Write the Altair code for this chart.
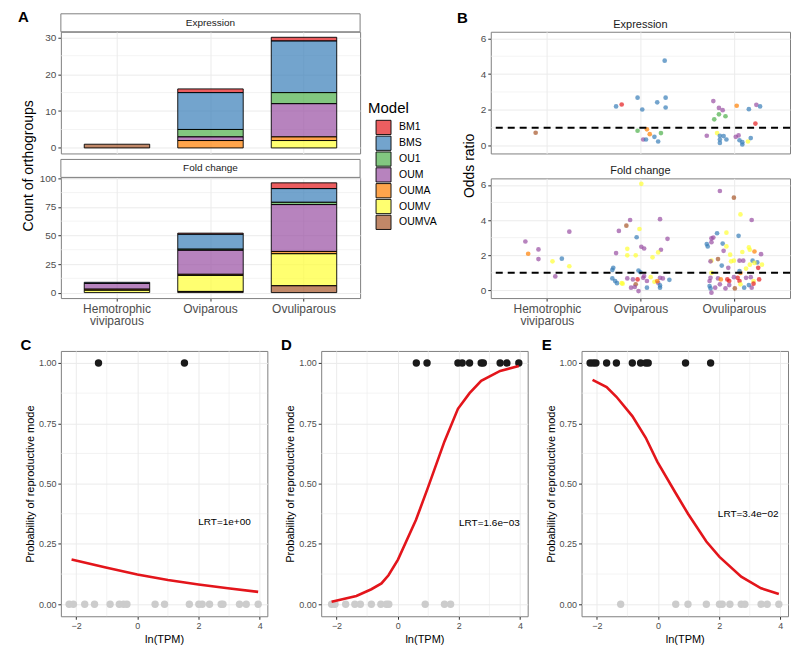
import altair as alt
import pandas as pd

FONT = "Liberation Sans"
GRID = "#EBEBEB"
BORDER = "#808080"
TICK_TEXT = "#4D4D4D"
TICK = "#333333"

models = ["BM1", "BMS", "OU1", "OUM", "OUMA", "OUMV", "OUMVA"]
model_colors = ["#E41A1C", "#377EB8", "#4DAF4A", "#984EA3", "#FF7F00", "#FFFF33", "#A65628"]
modes = ["Hemotrophic viviparous", "Oviparous", "Ovuliparous"]

# ---------------- Panel A: counts per model (in the order of `models`) ----------------
expr_hemo = [0, 0, 0, 0, 0, 0, 1]
expr_ovip = [1, 10, 2, 1, 2, 0, 0]
expr_ovul = [1, 14, 3, 9, 1, 2, 0]
fold_hemo = [0, 1, 0, 5, 1, 2, 0]
fold_ovip = [1, 13, 1, 21, 1, 14, 1]
fold_ovul = [5, 12, 2, 41, 2, 28, 6]

# ---------------- Panel B: jittered mode position (1,2,3), odds ratio, model ----------------
b_expr_x = [0.88, 1.74, 1.80, 1.97, 2.02, 1.97, 2.07, 2.03, 2.06, 2.10, 2.15, 2.18, 2.19, 2.22,
            2.26, 2.27, 2.27, 2.71, 2.78, 2.79, 2.82, 2.84, 2.84, 2.85, 2.85, 2.85, 2.88, 2.89,
            2.91, 2.92, 3.02, 3.03, 3.05, 3.06, 3.09, 3.09, 3.15, 3.16, 3.18, 3.23, 3.24, 3.28]
b_expr_y = [0.72, 2.19, 2.30, 2.68, 2.02, 0.83, 0.91, 0.34, 0.34, 0.64, 0.49, 2.42, 0.23, 0.70,
            4.75, 2.68, 2.13, 0.55, 2.49, 1.47, 0.70, 2.11, 1.75, 0.55, 0.34, 0.15, 1.98, 0.53,
            1.64, 0.34, 0.49, 2.23, 0.57, 0.30, 0.19, 0.06, 0.23, 2.04, 0.42, 1.23, 2.28, 2.19]
b_expr_m = ["OUMVA", "BMS", "BM1", "BMS", "BMS", "OU1", "OUMA", "OUM", "BMS", "OUMA", "BMS", "BMS", "BMS", "OU1",
            "BMS", "BMS", "BMS", "OUM", "OUM", "OU1", "OUMV", "OUM", "OU1", "BMS", "BMS", "BMS", "OUM", "BMS",
            "OU1", "BMS", "OUM", "OUMA", "OUM", "BMS", "BMS", "BMS", "OUMV", "BMS", "BMS", "BM1", "OUM", "BMS"]

b_fold_x = [0.77, 0.80, 0.91, 0.91, 1.06, 1.09, 1.16, 1.24, 1.24,
            2.01, 1.89, 1.85, 1.77, 2.21, 1.99, 1.96, 2.29, 1.74, 1.86, 2.01, 2.04, 2.22, 1.86, 1.95,
            2.13, 2.19, 1.71, 1.70, 1.98, 2.00, 1.70, 1.73, 1.75, 1.80, 1.86, 1.92, 1.97, 2.03, 2.04,
            2.07, 1.95, 1.90, 1.94, 1.98, 2.07, 2.11, 2.15, 2.19, 2.21, 2.24, 2.21, 2.21, 2.31, 2.18, 1.81,
            2.85, 3.00, 3.07, 3.19, 2.82, 2.92, 2.78, 2.76, 3.05, 2.71, 2.72, 2.76, 2.88, 2.92, 2.89,
            2.96, 3.09, 3.16, 3.17, 3.22, 3.29, 2.76, 2.75, 2.83, 2.97, 3.00, 3.06, 3.10, 3.20, 3.25,
            3.30, 3.26, 2.87, 2.94, 3.13, 3.17, 3.22, 3.07, 2.76, 2.75, 2.74, 2.83, 2.86, 2.93, 2.95,
            3.04, 3.06, 3.13, 3.18, 3.21, 3.27, 2.74, 2.75, 2.80, 2.85, 2.91, 2.95, 3.01, 3.07, 3.11,
            3.16, 3.19, 3.21, 2.76, 3.00, 3.06]
b_fold_y = [2.78, 2.08, 2.33, 1.78, 1.65, 0.79, 1.80, 3.34, 1.37,
            6.06, 4.00, 3.68, 3.38, 4.05, 3.49, 3.02, 2.93, 2.12, 2.36, 2.48, 2.38, 2.31, 1.99, 1.99,
            1.88, 2.16, 1.28, 1.16, 1.13, 1.03, 0.68, 0.53, 0.41, 0.41, 0.68, 0.62, 0.62, 0.71, 0.81,
            0.53, 0.34, 0.15, 0.19, -0.04, 0.15, 0.75, 0.49, 0.43, 0.71, 0.68, 0.28, 0.15, 0.60, 0.53, 0.38,
            5.65, 5.27, 4.32, 4.00, 3.25, 3.28, 3.00, 2.96, 3.10, 2.63, 2.50, 2.74, 2.66, 2.50, 2.25,
            2.03, 2.18, 2.44, 2.31, 2.21, 2.06, 1.69, 1.65, 1.78, 1.65, 1.69, 1.69, 1.69, 1.69, 1.59,
            1.46, 1.28, 1.41, 1.28, 1.24, 1.46, 1.56, 0.99, 0.99, 0.71, 0.53, 0.68, 0.62, 0.62, 0.53,
            0.71, 0.53, 0.71, 0.75, 0.53, 0.62, 0.24, 0.11, 0.15, 0.34, 0.11, 0.30, 0.11, 0.34, 0.15,
            0.30, 0.15, 0.38, -0.13, 0.75, 1.09]
b_fold_m = ["OUM", "OUMA", "OUM", "OUM", "OUMV", "OUM", "BMS", "OUM", "OUMV",
            "OUMV", "OUM", "OUMVA", "OUM", "OUM", "OUMV", "BMS", "OUM", "OUM", "OUMV", "OUM", "OUM", "OUM", "OUMV", "OUMV",
            "OUMV", "OUMV", "BMS", "BMS", "BMS", "BMS", "BMS", "BMS", "BMS", "OUMV", "OUM", "OUM", "BM1", "OUM", "OUM",
            "OUM", "OUMVA", "OUM", "OUM", "OUM", "BMS", "OUMV", "OUMV", "OUM", "OUM", "OUM", "BMS", "BMS", "BMS", "OUMA", "OUMV",
            "OUM", "OUMVA", "OUMV", "OUM", "BMS", "OUMV", "OUM", "OUM", "BMS", "BMS", "BMS", "OUM", "BMS", "OUMV", "OUM",
            "OUMV", "OUMV", "OUMV", "OUMV", "OUMA", "OUM", "OUMV", "OUM", "OUMVA", "OUMV", "OUMV", "OUM", "OUM", "BMS", "BMS",
            "OUMV", "BM1", "BMS", "OUM", "OUMV", "OUMV", "OUMV", "OUMA", "OUMV", "OUM", "OUM", "OUM", "OUMA", "BM1", "BM1",
            "BM1", "BM1", "OUM", "OUM", "OUMV", "BM1", "BMS", "BMS", "OUM", "OUM", "OUM", "OUM", "OUMVA", "OUMV", "BMS",
            "BMS", "OUM", "BM1", "OUM", "OUM", "BMS"]
b_ref_line = [1]

# ---------------- Panels C-E: ln(TPM) of species without / with the mode, fitted curve ----------------
c_absent = [-2.23, -2.09, -1.72, -1.40, -0.89, -0.59, -0.45, -0.34, 0.58, 0.89, 1.70, 2.01, 2.12, 2.36,
            2.74, 2.80, 3.34, 3.56, 3.95]
c_present = [-1.27, 1.54]
c_curve_x = [-2.15, -1.03, 0.0, 1.0, 2.0, 2.96, 3.95]
c_curve_y = [0.185, 0.152, 0.123, 0.100, 0.082, 0.066, 0.051]

d_absent = [-2.16, -2.05, -1.70, -1.40, -1.22, -0.86, -0.55, -0.37, -0.29, 0.90, 1.53, 1.73]
d_present = [0.61, 0.96, 1.97, 2.11, 2.35, 2.73, 2.80, 3.35, 3.57, 3.96]
d_curve_x = [-2.16, -1.35, -0.86, -0.53, -0.30, 0.01, 0.60, 0.98, 1.53, 1.97, 2.35, 2.73, 3.35, 3.96]
d_curve_y = [0.010, 0.034, 0.062, 0.086, 0.120, 0.185, 0.350, 0.480, 0.675, 0.810, 0.875, 0.926, 0.967, 0.988]

e_absent = [-1.22, 0.58, 0.98, 1.58, 2.01, 2.10, 2.35, 2.72, 2.84, 3.37, 3.57, 3.95]
e_present = [-2.22, -2.12, -2.03, -1.68, -1.36, -0.84, -0.57, -0.40, -0.32, 0.90, 1.72]
e_curve_x = [-2.14, -1.68, -1.36, -0.84, -0.40, -0.02, 0.58, 0.98, 1.58, 2.01, 2.72, 3.37, 3.95]
e_curve_y = [0.930, 0.900, 0.860, 0.780, 0.690, 0.590, 0.460, 0.375, 0.260, 0.196, 0.114, 0.066, 0.042]

lrt_labels = ["LRT=1e+00", "LRT=1.6e\u221203", "LRT=3.4e\u221202"]
lrt_x = [2.85, 3.0, 2.95]
lrt_y = [0.34, 0.335, 0.375]

color_scale = alt.Scale(domain=models, range=model_colors)


def yaxis(values, title, size=10, title_size=14, titleY=None, fmt=None, title_pad=4):
    kw = dict(values=values, title=title, grid=True, gridColor=GRID, gridWidth=1, domain=False,
              tickSize=3, tickColor=TICK, labelColor=TICK_TEXT, labelFontSize=size, labelPadding=2,
              labelFont=FONT, titleFont=FONT, titleFontSize=title_size, titleFontWeight="normal",
              titleColor="black", titlePadding=title_pad)
    if titleY is not None:
        kw["titleY"] = titleY
    if fmt is not None:
        kw["format"] = fmt
    return alt.Axis(**kw)


def letter_layer(letter, x, y):
    return alt.Chart(pd.DataFrame({"t": [letter]})).mark_text(
        fontSize=15, fontWeight="bold", font=FONT, align="center", baseline="alphabetic", color="black"
    ).encode(x=alt.value(x), y=alt.value(y), text="t:N")


def label_layer(text, x, y, size):
    return alt.Chart(pd.DataFrame({"t": [text]})).mark_text(
        fontSize=size, font=FONT, color="#1A1A1A", align="center", baseline="alphabetic"
    ).encode(x=alt.value(x), y=alt.value(y), text="t:N")


# ---------------- Panel A ----------------
def a_panel(counts_list, strip_label, ydomain, yvals, yminor, height, show_x, ytitle, titleY, letter):
    rows = []
    for mode, counts in zip(modes, counts_list):
        for i, (m, v) in enumerate(zip(models, counts)):
            if v > 0:
                rows.append({"mode": mode, "model": m, "count": v, "rank": i})
    df = pd.DataFrame(rows)
    yscale = alt.Scale(domain=ydomain, nice=False, zero=False)
    yax = yaxis(yvals, ytitle, titleY=titleY)
    xscale = alt.Scale(domain=modes, paddingInner=0.3, paddingOuter=0.25)
    if show_x:
        xax = alt.Axis(title=None, grid=True, gridColor=GRID, gridWidth=1, bandPosition=0.5, domain=False,
                       tickSize=3, tickColor=TICK, labelColor=TICK_TEXT, labelFontSize=12, labelAngle=0,
                       labelPadding=2, labelFont=FONT, labelExpr="split(datum.label, ' ')", labelLineHeight=13)
    else:
        xax = alt.Axis(title=None, grid=True, gridColor=GRID, gridWidth=1, bandPosition=0.5, domain=False,
                       ticks=False, labels=False)
    minor = alt.Chart(pd.DataFrame({"v": yminor})).mark_rule(color=GRID, strokeWidth=0.6).encode(
        y=alt.Y("v:Q", scale=yscale, axis=yax))
    bars = alt.Chart(df).mark_bar(stroke="black", strokeWidth=0.9, fillOpacity=0.7).encode(
        x=alt.X("mode:N", scale=xscale, axis=xax, sort=modes),
        y=alt.Y("sum(count):Q", scale=yscale, axis=yax, stack="zero"),
        color=alt.Color("model:N", scale=color_scale, legend=None),
        order=alt.Order("rank:Q", sort="descending"),
    )
    sdf = alt.Chart(pd.DataFrame({"t": [strip_label]}))
    strip_rect = sdf.mark_rect(fill="white", stroke=BORDER, strokeWidth=1).encode(
        x=alt.value(0), x2=alt.value(300), y=alt.value(-18), y2=alt.value(0))
    strip_text = sdf.mark_text(fontSize=10, font=FONT, color="#1A1A1A", baseline="middle").encode(
        x=alt.value(150), y=alt.value(-9), text="t:N")
    layers = [minor, bars, strip_rect, strip_text]
    if letter:
        layers.append(letter_layer(letter, -37.5, -9.5))
    return alt.layer(*layers).properties(width=300, height=height)


a_exp = a_panel([expr_hemo, expr_ovip, expr_ovul], "Expression", [-1.5, 31.5], [0, 10, 20, 30],
                [5, 15, 25], 122, False, None, None, "A")
a_fold = a_panel([fold_hemo, fold_ovip, fold_ovul], "Fold change", [-4.8, 100.8], [0, 25, 50, 75, 100],
                 [12.5, 37.5, 62.5, 87.5], 121, True, "Count of orthogroups", -12, None)

# ---------------- Legend ----------------
leg_scale = alt.Scale(domain=models, range=[88, 199], paddingInner=0.1, paddingOuter=0.05)
leg_df = pd.DataFrame({"model": models})
leg_rect = alt.Chart(leg_df).mark_rect(stroke="black", strokeWidth=0.9, fillOpacity=0.7).encode(
    x=alt.value(8), x2=alt.value(23),
    y=alt.Y("model:N", scale=leg_scale, axis=None),
    color=alt.Color("model:N", scale=color_scale, legend=None))
leg_text = alt.Chart(leg_df).mark_text(align="left", baseline="middle", fontSize=10.5, font=FONT,
                                       color="black").encode(
    x=alt.value(31), y=alt.Y("model:N", scale=leg_scale, axis=None), text="model:N")
leg_title = alt.Chart(pd.DataFrame({"t": ["Model"]})).mark_text(
    align="left", baseline="alphabetic", fontSize=15, font=FONT, color="black").encode(
    x=alt.value(0), y=alt.value(81), text="t:N")
legend = alt.layer(leg_rect, leg_text, leg_title).properties(
    width=81, height=200, view=alt.ViewBackground(strokeOpacity=0))

# ---------------- Panel B ----------------
parts = []
for i, m in enumerate(modes):
    words = ", ".join("'" + w + "'" for w in m.split(" "))
    parts.append(f"datum.value == {i + 1} ? [{words}]")
b_label_expr = " : ".join(parts) + " : ''"


def b_panel(xs, ys, ms, title, show_x, ytitle, titleY, letter, height):
    df = pd.DataFrame({"x": xs, "y": ys, "model": ms})
    xscale = alt.Scale(domain=[0.4, 3.6], nice=False, zero=False)
    yscale = alt.Scale(domain=[-0.44, 6.37], nice=False, zero=False)
    if show_x:
        xax = alt.Axis(values=[1, 2, 3], title=None, grid=True, gridColor=GRID, gridWidth=1, domain=False,
                       tickSize=3, tickColor=TICK, labelColor=TICK_TEXT, labelFontSize=12, labelPadding=2,
                       labelFont=FONT, labelExpr=b_label_expr, labelLineHeight=13, labelFlush=False,
                       labelOverlap=False)
    else:
        xax = alt.Axis(values=[1, 2, 3], title=None, grid=True, gridColor=GRID, gridWidth=1, domain=False,
                       ticks=False, labels=False)
    yax = yaxis([0, 2, 4, 6], ytitle, titleY=titleY)
    minor = alt.Chart(pd.DataFrame({"v": [1, 3, 5]})).mark_rule(color=GRID, strokeWidth=0.6).encode(
        y=alt.Y("v:Q", scale=yscale, axis=yax))
    pts = alt.Chart(df).mark_circle(size=22, opacity=0.7).encode(
        x=alt.X("x:Q", scale=xscale, axis=xax),
        y=alt.Y("y:Q", scale=yscale, axis=yax),
        color=alt.Color("model:N", scale=color_scale, legend=None))
    dash = alt.Chart(pd.DataFrame({"v": b_ref_line})).mark_rule(
        color="black", strokeWidth=2, strokeDash=[7, 5]).encode(y=alt.Y("v:Q", scale=yscale, axis=yax))
    layers = [minor, pts, dash, label_layer(title, 150, -4, 11)]
    if letter:
        layers.append(letter_layer(letter, -28.5, -8.3))
    return alt.layer(*layers).properties(width=300, height=height)


b_exp = b_panel(b_expr_x, b_expr_y, b_expr_m, "Expression", False, None, None, "B", 122)
b_fold = b_panel(b_fold_x, b_fold_y, b_fold_m, "Fold change", True, "Odds ratio", -13, None, 120)


# ---------------- Panels C-E ----------------
def lr_panel(absent, present, cx, cy, lrt, lx, ly, letter):
    xscale = alt.Scale(domain=[-2.5, 4.25], nice=False, zero=False)
    yscale = alt.Scale(domain=[-0.05, 1.05], nice=False, zero=False)
    xax = alt.Axis(values=[-2, 0, 2, 4], title="ln(TPM)", grid=True, gridColor=GRID, gridWidth=1,
                   domain=False, tickSize=3, tickColor=TICK, labelColor=TICK_TEXT, labelFontSize=9,
                   labelPadding=2, labelFont=FONT, titleFont=FONT, titleFontSize=11,
                   titleFontWeight="normal", titleColor="black", titlePadding=3, labelFlush=False)
    yax = yaxis([0, 0.25, 0.5, 0.75, 1], "Probability of reproductive mode", size=9, title_size=11,
                fmt=".2f", title_pad=3)
    vminor = alt.Chart(pd.DataFrame({"v": [-1, 1, 3]})).mark_rule(color=GRID, strokeWidth=0.6).encode(
        x=alt.X("v:Q", scale=xscale, axis=xax))
    hminor = alt.Chart(pd.DataFrame({"v": [0.125, 0.375, 0.625, 0.875]})).mark_rule(
        color=GRID, strokeWidth=0.6).encode(y=alt.Y("v:Q", scale=yscale, axis=yax))
    a_df = pd.DataFrame({"x": absent, "y": [0] * len(absent)})
    p_df = pd.DataFrame({"x": present, "y": [1] * len(present)})
    pa = alt.Chart(a_df).mark_circle(size=55, color="#CCCCCC", opacity=1).encode(
        x=alt.X("x:Q", scale=xscale, axis=xax), y=alt.Y("y:Q", scale=yscale, axis=yax))
    pp = alt.Chart(p_df).mark_circle(size=55, color="#1A1A1A", opacity=1).encode(
        x=alt.X("x:Q", scale=xscale, axis=xax), y=alt.Y("y:Q", scale=yscale, axis=yax))
    curve = alt.Chart(pd.DataFrame({"x": cx, "y": cy})).mark_line(color="#E3151B", strokeWidth=2.6).encode(
        x=alt.X("x:Q", scale=xscale, axis=xax), y=alt.Y("y:Q", scale=yscale, axis=yax))
    txt = alt.Chart(pd.DataFrame({"x": [lx], "y": [ly], "t": [lrt]})).mark_text(
        fontSize=10, font=FONT, color="black", align="center", baseline="middle").encode(
        x=alt.X("x:Q", scale=xscale, axis=xax), y=alt.Y("y:Q", scale=yscale, axis=yax), text="t:N")
    return alt.layer(vminor, hminor, pa, pp, curve, txt, letter_layer(letter, -35, -1)).properties(
        width=207, height=266)


c_panel = lr_panel(c_absent, c_present, c_curve_x, c_curve_y, lrt_labels[0], lrt_x[0], lrt_y[0], "C")
d_panel = lr_panel(d_absent, d_present, d_curve_x, d_curve_y, lrt_labels[1], lrt_x[1], lrt_y[1], "D")
e_panel = lr_panel(e_absent, e_present, e_curve_x, e_curve_y, lrt_labels[2], lrt_x[2], lrt_y[2], "E")

A_col = alt.vconcat(a_exp, a_fold, spacing=24, bounds="flush").resolve_scale(x="independent", y="independent")
B_col = alt.vconcat(b_exp, b_fold, spacing=25, bounds="flush").resolve_scale(x="independent", y="independent")
top = alt.hconcat(A_col, legend, B_col, spacing=7).resolve_scale(x="independent", y="independent")
bottom = alt.hconcat(c_panel, d_panel, e_panel, spacing=54, bounds="flush").resolve_scale(
    x="independent", y="independent")

chart = alt.vconcat(top, bottom, spacing=9).resolve_scale(x="independent", y="independent").properties(
    padding={"left": 9, "top": 1, "right": 0, "bottom": 0}
).configure(font=FONT).configure_view(stroke=BORDER, strokeWidth=1)

chart.save("out.html", embed_options={"renderer": "svg", "actions": False})
